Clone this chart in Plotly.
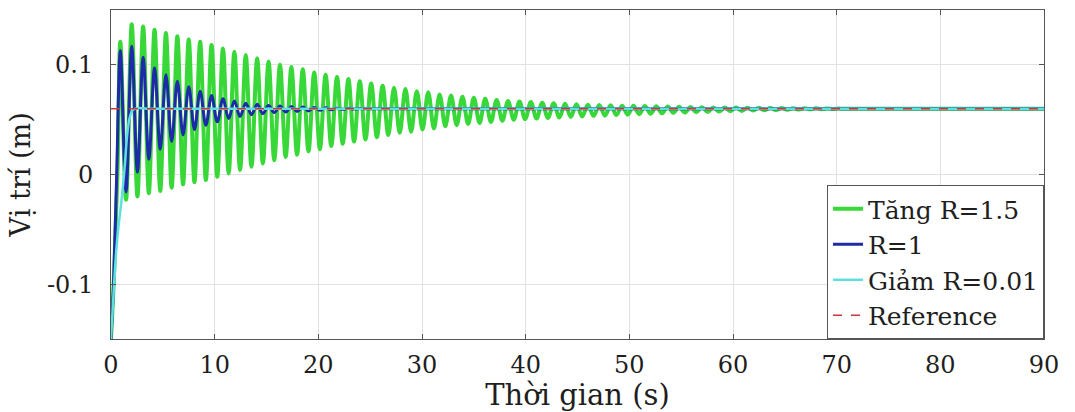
import plotly.graph_objects as go

# ---------------- data ----------------
x_ticks = [0, 10, 20, 30, 40, 50, 60, 70, 80, 90]
y_ticks = [-0.1, 0.0, 0.1]
y_tick_labels = ["-0.1", "0", "0.1"]

osc_period = 1.1          # seconds between successive peaks
first_peak_t = 0.9        # time of the first peak
first_trough_t = 1.45     # time of the first trough

# Tăng R=1.5 (green): start of the rise, then peak / trough values per cycle
green_rise_t = [0.0, 0.3, 0.62]
green_rise_y = [-0.15, -0.09, 0.0]
green_peaks = [0.121, 0.137, 0.135, 0.132, 0.129, 0.126, 0.123, 0.121, 0.118, 0.115,
               0.112, 0.109, 0.106, 0.103, 0.100, 0.098, 0.096, 0.093, 0.091, 0.089,
               0.087, 0.085, 0.083, 0.081, 0.079, 0.078, 0.076, 0.075, 0.073, 0.072,
               0.071, 0.070, 0.069, 0.068, 0.067, 0.0665, 0.066, 0.0655, 0.065, 0.0645,
               0.064, 0.0637, 0.0634, 0.0631, 0.0628, 0.0626, 0.0624, 0.0622, 0.062, 0.0618,
               0.0616, 0.0614, 0.0612, 0.0611, 0.061, 0.0609, 0.0608, 0.0607, 0.0606, 0.0605,
               0.0604, 0.0603, 0.0602, 0.0601]
green_troughs = [-0.023, -0.020, -0.017, -0.015, -0.012, -0.009, -0.007, -0.005, -0.002, 0.001,
                 0.004, 0.007, 0.010, 0.013, 0.016, 0.018, 0.021, 0.023, 0.026, 0.028,
                 0.030, 0.032, 0.034, 0.036, 0.038, 0.039, 0.041, 0.042, 0.044, 0.045,
                 0.046, 0.047, 0.048, 0.049, 0.050, 0.0505, 0.051, 0.0515, 0.052, 0.0525,
                 0.053, 0.0534, 0.0538, 0.0542, 0.0546, 0.055, 0.0554, 0.0558, 0.0562, 0.0565,
                 0.0568, 0.0571, 0.0574, 0.0577, 0.058, 0.0583, 0.0586, 0.0588, 0.059, 0.0592,
                 0.0594, 0.0596, 0.0598, 0.0599]

# R=1 (blue)
blue_rise_t = [0.0, 0.25, 0.55]
blue_rise_y = [-0.15, -0.10, 0.0]
blue_peaks = [0.113, 0.117, 0.107, 0.097, 0.091, 0.085, 0.080, 0.076, 0.072, 0.069,
              0.067, 0.065, 0.064, 0.063, 0.0625, 0.062, 0.0615, 0.0612, 0.0608, 0.0605,
              0.0603, 0.0601]
blue_troughs = [-0.016, 0.002, 0.014, 0.023, 0.030, 0.036, 0.041, 0.045, 0.048, 0.051,
                0.053, 0.0545, 0.0555, 0.0565, 0.057, 0.0575, 0.058, 0.0585, 0.059, 0.0594,
                0.0597, 0.0599]

# Giảm R=0.01 (cyan)
cyan_t = [0.0, 0.15, 0.3, 0.5, 0.75, 1.0, 1.3, 1.55, 1.8, 2.1, 2.6, 3.5, 90.0]
cyan_y = [-0.15, -0.125, -0.10, -0.07, -0.045, -0.025, 0.005, 0.035, 0.052, 0.059, 0.0605, 0.060, 0.060]

# Reference
ref_t = [0.0, 90.0]
ref_y = [0.06, 0.06]

final_value = 0.06
t_end = 90.0


def build_series(rise_t, rise_y, peaks, troughs):
    xs, ys = list(rise_t), list(rise_y)
    for k, (p, q) in enumerate(zip(peaks, troughs)):
        xs += [first_peak_t + osc_period * k, first_trough_t + osc_period * k]
        ys += [p, q]
    xs.append(t_end)
    ys.append(final_value)
    return xs, ys


gx, gy = build_series(green_rise_t, green_rise_y, green_peaks, green_troughs)
bx, by = build_series(blue_rise_t, blue_rise_y, blue_peaks, blue_troughs)

FONT = "DejaVu Serif"
TXT = "#1e1e1e"

fig = go.Figure()
fig.add_trace(go.Scatter(x=gx, y=gy, mode="lines", name="Tăng R=1.5",
                         line=dict(color="#38d838", width=4, shape="spline", smoothing=1.0)))
fig.add_trace(go.Scatter(x=bx, y=by, mode="lines", name="R=1",
                         line=dict(color="#1f2aa8", width=3, shape="spline", smoothing=1.0)))
fig.add_trace(go.Scatter(x=cyan_t, y=cyan_y, mode="lines", name="Giảm R=0.01",
                         line=dict(color="#5fe0e0", width=2.5, shape="spline", smoothing=0.8)))
fig.add_trace(go.Scatter(x=ref_t, y=ref_y, mode="lines", name="Reference",
                         line=dict(color="#c83a3a", width=1.5, dash="dash")))

axis_common = dict(
    showgrid=True, gridcolor="#e2e2e2", gridwidth=1,
    showline=True, linecolor="#555555", linewidth=1, mirror="allticks",
    ticks="inside", ticklen=5, tickcolor="#555555",
    zeroline=False,
    tickfont=dict(family=FONT, size=24, color=TXT),
)

fig.update_xaxes(range=[0, 90], tickvals=x_ticks, ticktext=[str(v) for v in x_ticks],
                 ticklabelstandoff=4,
                 title=dict(text="Thời gian (s)", font=dict(family=FONT, size=29, color=TXT),
                            standoff=0),
                 **axis_common)
fig.update_yaxes(range=[-0.15, 0.15], tickvals=y_ticks, ticktext=y_tick_labels,
                 ticklabelstandoff=12,
                 title=dict(text="Vị trí (m)", font=dict(family=FONT, size=27, color=TXT),
                            standoff=8),
                 **axis_common)

fig.update_layout(
    width=1075, height=412,
    margin=dict(l=111, r=31, t=10, b=73),
    paper_bgcolor="white", plot_bgcolor="white",
    font=dict(family=FONT),
    showlegend=True,
    legend=dict(x=1, y=0, xanchor="right", yanchor="bottom",
                bgcolor="white", bordercolor="#555555", borderwidth=1,
                font=dict(family=FONT, size=25, color=TXT),
                itemwidth=30, tracegroupgap=0),
)

fig.write_html("out.html")
